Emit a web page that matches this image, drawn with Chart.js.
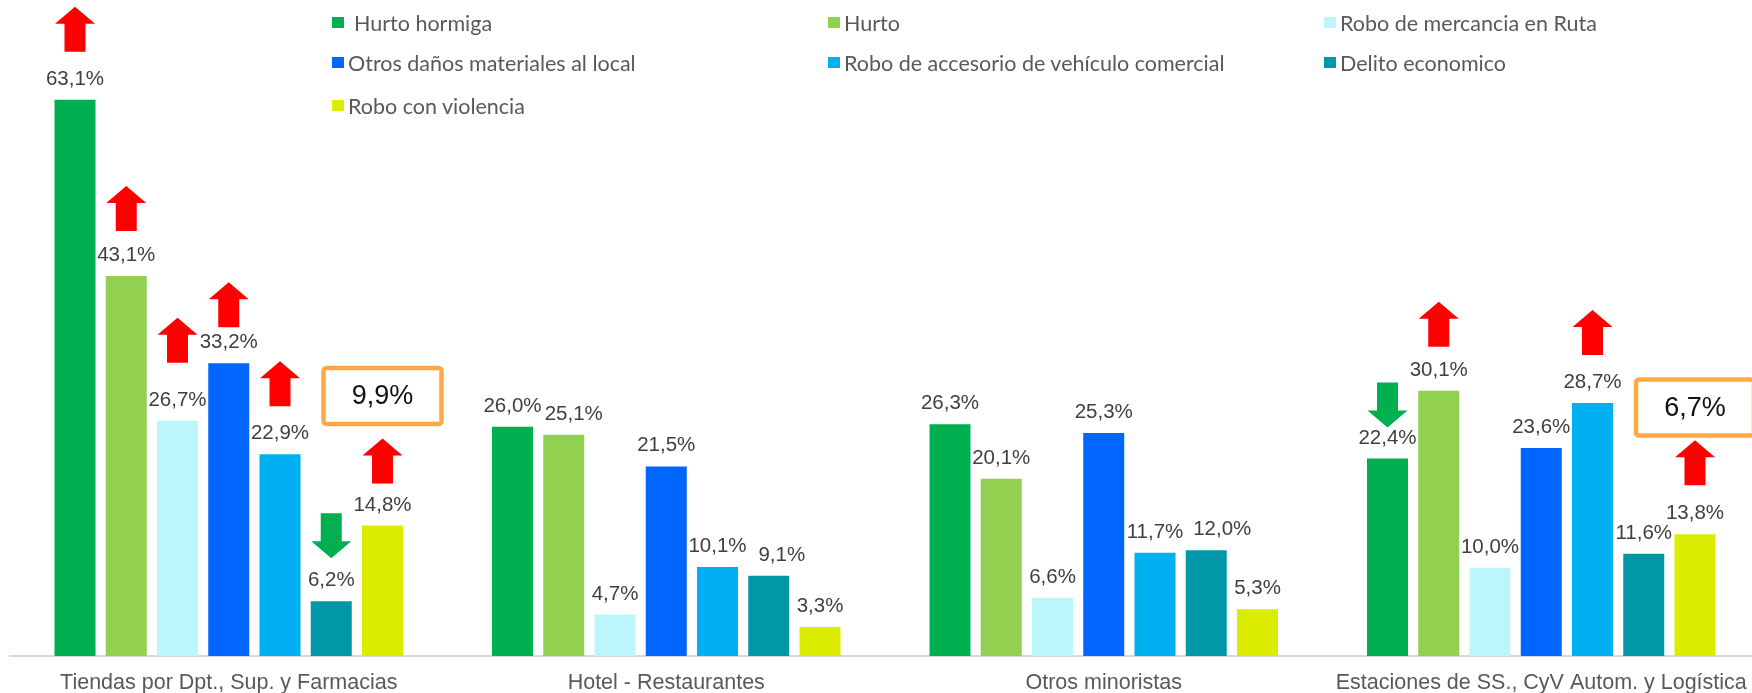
<!DOCTYPE html>
<html>
<head>
<meta charset="utf-8">
<script src="https://cdn.jsdelivr.net/npm/chart.js@4"></script>
<style>
  html, body { margin: 0; padding: 0; background: #fff; overflow: hidden; }
  #wrap { position: relative; width: 1762px; height: 693px; }
  .lg { position: absolute; font-family: Lato, "Open Sans", sans-serif; font-size: 21.5px; color: #595959; white-space: nowrap; line-height: 24px; }
  .lg i { position: absolute; left: 0; top: 6px; width: 12px; height: 11px; }
</style>
</head>
<body>
<div id="wrap">
  <canvas id="crimeChart" width="1762" height="693"></canvas>
  <div id="legend"></div>
</div>
<script>
// Categories and series
const sectors = ['Tiendas por Dpt., Sup. y Farmacias', 'Hotel - Restaurantes', 'Otros minoristas', 'Estaciones de SS., CyV Autom. y Logística'];
const seriesNames = ['Hurto hormiga', 'Hurto', 'Robo de mercancia en Ruta', 'Otros daños materiales al local', 'Robo de accesorio de vehículo comercial', 'Delito economico', 'Robo con violencia'];
const hurtoHormiga = [63.1, 26.0, 26.3, 22.4];
const hurto = [43.1, 25.1, 20.1, 30.1];
const roboRuta = [26.7, 4.7, 6.6, 10.0];
const otrosDanos = [33.2, 21.5, 25.3, 23.6];
const roboAccesorio = [22.9, 10.1, 11.7, 28.7];
const delitoEconomico = [6.2, 9.1, 12.0, 11.6];
const roboViolencia = [14.8, 3.3, 5.3, 13.8];
const colors = ['#00B050', '#92D050', '#BDF5FD', '#0066FF', '#00B0F0', '#0097A7', '#DBEC00'];

// trend arrows: [sector, series, direction, gap above bar]
const arrows = [
  [0, 0, 'up', 48], [0, 1, 'up', 45], [0, 2, 'up', 58], [0, 3, 'up', 36],
  [0, 4, 'up', 48], [0, 5, 'down', 43], [0, 6, 'up', 42],
  [3, 0, 'down', 31], [3, 1, 'up', 44], [3, 4, 'up', 48], [3, 6, 'up', 49]
];
// highlighted totals: [sector, text, level]
const boxes = [[0, '9,9%', 29.5], [3, '6,7%', 28.2]];
// labels moved sideways to avoid overlap: 'sector-series' -> dx
const labelNudge = { '1-1': 10, '1-5': 13, '2-5': 16 };

const allSeries = [hurtoHormiga, hurto, roboRuta, otrosDanos, roboAccesorio, delitoEconomico, roboViolencia];
const fmt = v => v.toFixed(1).replace('.', ',') + '%';

// legend (HTML)
const legendPos = [[332, 11], [828, 11], [1324, 11], [332, 51], [828, 51], [1324, 51], [332, 94]];
const legendEl = document.getElementById('legend');
seriesNames.forEach((name, i) => {
  const d = document.createElement('div');
  d.className = 'lg';
  d.style.left = legendPos[i][0] + 'px';
  d.style.top = legendPos[i][1] + 'px';
  d.style.paddingLeft = (i === 0 ? 22 : 16) + 'px';
  d.innerHTML = '<i style="background:' + colors[i] + '"></i>' + name;
  legendEl.appendChild(d);
});

function drawArrow(ctx, cx, bottom, dir, color) {
  const h = 45, hw = 20, hh = 17, sw = 10.5;
  const top = bottom - h;
  ctx.fillStyle = color;
  ctx.beginPath();
  if (dir === 'up') {
    ctx.moveTo(cx, top);
    ctx.lineTo(cx + hw, top + hh);
    ctx.lineTo(cx + sw, top + hh);
    ctx.lineTo(cx + sw, bottom);
    ctx.lineTo(cx - sw, bottom);
    ctx.lineTo(cx - sw, top + hh);
    ctx.lineTo(cx - hw, top + hh);
  } else {
    ctx.moveTo(cx, bottom);
    ctx.lineTo(cx + hw, bottom - hh);
    ctx.lineTo(cx + sw, bottom - hh);
    ctx.lineTo(cx + sw, top);
    ctx.lineTo(cx - sw, top);
    ctx.lineTo(cx - sw, bottom - hh);
    ctx.lineTo(cx - hw, bottom - hh);
  }
  ctx.closePath();
  ctx.fill();
}

const labelFont = '20.5px "Liberation Sans", Arial, sans-serif';

const annotations = {
  id: 'annotations',
  afterDatasetsDraw(chart) {
    const ctx = chart.ctx;
    ctx.save();
    ctx.font = labelFont;
    ctx.textAlign = 'center';
    ctx.textBaseline = 'alphabetic';
    chart.data.datasets.forEach((ds, di) => {
      chart.getDatasetMeta(di).data.forEach((bar, i) => {
        const dx = labelNudge[i + '-' + di] || 0;
        ctx.fillStyle = '#404040';
        ctx.fillText(fmt(ds.data[i]), bar.x + dx, bar.y - 15);
      });
    });
    arrows.forEach(([cat, s, dir, gap]) => {
      const bar = chart.getDatasetMeta(s).data[cat];
      drawArrow(ctx, bar.x, bar.y - gap, dir, dir === 'up' ? '#FF0000' : '#00B050');
    });
    const yScale = chart.scales.y;
    boxes.forEach(([cat, text, level]) => {
      const bar = chart.getDatasetMeta(6).data[cat];
      const cy = yScale.getPixelForValue(level);
      const w = 118, h = 56;
      ctx.beginPath();
      ctx.roundRect(bar.x - w / 2, cy - h / 2, w, h, 3);
      ctx.fillStyle = '#fff';
      ctx.fill();
      ctx.lineWidth = 4.5;
      ctx.strokeStyle = '#FFA940';
      ctx.stroke();
      ctx.fillStyle = '#111';
      ctx.font = '27px "Liberation Sans", Arial, sans-serif';
      ctx.textBaseline = 'middle';
      ctx.fillText(text, bar.x, cy + 1);
      ctx.textBaseline = 'alphabetic';
      ctx.font = labelFont;
    });
    ctx.restore();
  }
};

new Chart(document.getElementById('crimeChart'), {
  type: 'bar',
  data: {
    labels: sectors,
    datasets: allSeries.map((data, i) => ({
      label: seriesNames[i],
      data: data,
      backgroundColor: colors[i],
      categoryPercentage: 0.82,
      barPercentage: 0.8
    }))
  },
  options: {
    responsive: false,
    animation: false,
    layout: { padding: { left: 10, right: 2, top: 39, bottom: 0 } },
    plugins: { legend: { display: false }, tooltip: { enabled: false } },
    scales: {
      x: {
        grid: { display: false, drawTicks: false },
        border: { color: '#D9D9D9', width: 2 },
        ticks: { color: '#595959', font: { family: '"Liberation Sans", Arial, sans-serif', size: 21.5 }, padding: 14, maxRotation: 0, autoSkip: false },
        afterFit: s => { s.height = 37; }
      },
      y: { display: false, min: 0, max: 70 }
    }
  },
  plugins: [annotations]
});
</script>
</body>
</html>
